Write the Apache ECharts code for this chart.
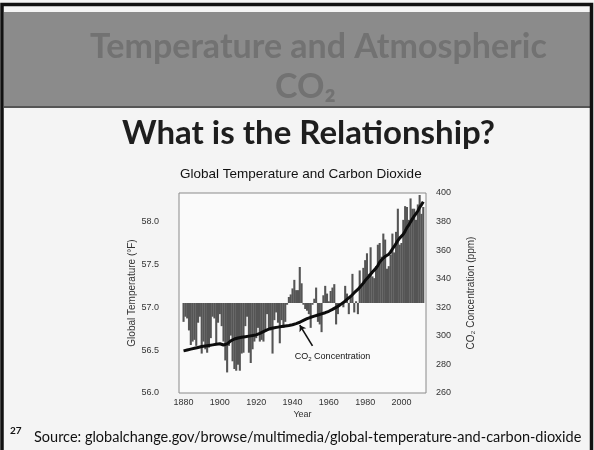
<!DOCTYPE html>
<html>
<head>
<meta charset="utf-8">
<script src="https://cdn.jsdelivr.net/npm/echarts@6/dist/echarts.min.js"></script>
<style>
html,body{margin:0;padding:0;background:#f4f4f4;}
#c{width:594px;height:450px;}
</style>
</head>
<body>
<div id="c"></div>
<script>
// ---- Data ----
const firstYear = 1880;
const axisYears = [1878, 2013];            // axis span (category range)
const tickYears = [1880, 1900, 1920, 1940, 1960, 1980, 2000];
const tempBaseline = 57.05;                 // bar baseline (°F)
// Global annual temperature, °F, 1880..2012
const temperatureF = [
  56.83,56.89,56.87,56.73,56.56,56.60,56.62,56.55,56.82,56.89,
  56.46,56.60,56.51,56.47,56.53,56.64,56.89,56.87,56.58,56.82,
  56.92,56.78,56.60,56.38,56.24,56.55,56.67,56.37,56.28,56.26,
  56.33,56.26,56.46,56.47,56.78,56.89,56.47,56.35,56.51,56.60,
  56.64,56.76,56.60,56.62,56.60,56.73,56.92,56.74,56.73,56.46,
  56.85,56.94,56.82,56.58,56.85,56.76,56.83,57.03,57.12,57.15,
  57.22,57.32,57.20,57.20,57.47,57.28,57.03,56.98,56.96,56.92,
  56.76,57.03,57.10,57.23,56.83,56.80,56.71,57.14,57.25,57.16,
  57.07,57.19,57.23,57.27,56.80,56.92,57.03,57.05,57.00,57.25,
  57.16,56.92,57.12,57.39,56.94,57.07,56.92,57.43,57.27,57.46,
  57.55,57.63,57.39,57.70,57.36,57.34,57.48,57.73,57.75,57.59,
  57.86,57.79,57.45,57.48,57.61,57.86,57.64,57.88,58.15,57.73,
  57.75,58.02,58.18,58.17,58.02,58.27,58.15,58.15,58.02,58.20,
  58.31,58.09,58.17
];
// Atmospheric CO2, ppm, 1880..2012
const co2ppm = [
  289.5,289.8,290.1,290.4,290.7,291.0,291.3,291.6,291.9,292.2,
  292.5,292.7,292.9,293.1,293.3,293.5,293.7,293.9,294.1,294.3,
  294.5,294.2,293.6,293.4,294.4,295.6,296.5,297.2,297.8,298.2,
  298.5,298.8,299.0,299.2,299.4,299.6,299.8,300.0,300.2,300.4,
  300.7,301.2,301.8,302.4,303.0,303.6,304.2,304.8,305.2,305.5,
  305.7,305.9,306.1,306.3,306.5,306.7,306.9,307.1,307.3,307.5,
  307.8,308.2,308.6,309.0,309.5,310.1,310.8,311.4,312.0,312.5,
  313.0,313.4,313.8,314.2,314.6,315.0,315.4,315.8,316.2,316.6,
  317.2,317.8,318.5,319.2,319.9,320.6,321.5,322.4,323.3,324.4,
  325.5,326.5,327.6,329.0,330.2,331.3,332.5,333.9,335.4,336.9,
  338.7,340.1,341.5,343.1,344.7,346.1,347.4,349.2,351.6,353.1,
  354.4,355.6,356.5,357.1,358.8,360.8,362.6,363.7,366.7,368.4,
  369.6,371.1,373.3,375.8,377.5,379.8,381.9,383.8,385.6,387.4,
  389.9,391.7,393.9
];
const tempTicks = [56.0, 56.5, 57.0, 57.5, 58.0];
const co2Ticks = [260, 280, 300, 320, 340, 360, 380, 400];
// annotation anchors (data coords)
const arrowFrom = ['1951', 293];
const arrowTo = ['1944', 307.5];
const labelAt = ['1962', 285.5];

// ---- Build library inputs ----
const categories = [];
for (let y = axisYears[0]; y <= axisYears[1]; y++) categories.push(String(y));
const baseData = categories.map(c => {
  const i = +c - firstYear;
  if (i < 0 || i >= temperatureF.length) return null;
  return Math.min(temperatureF[i], tempBaseline);
});
const deltaData = categories.map(c => {
  const i = +c - firstYear;
  if (i < 0 || i >= temperatureF.length) return null;
  return +Math.abs(temperatureF[i] - tempBaseline).toFixed(3);
});
const co2Data = categories.map(c => {
  const i = +c - firstYear;
  if (i < 0 || i >= co2ppm.length) return null;
  return co2ppm[i];
});

const chart = echarts.init(document.getElementById('c'), null, {renderer: 'canvas'});
const AX = {fontFamily: 'Liberation Sans, Arial, sans-serif', color: '#333', fontSize: 9};
const HEAD = '"Lato", "Open Sans", sans-serif';
const option = {
  backgroundColor: '#f4f4f4',
  animation: false,
  graphic: [
    {type: 'rect', shape: {x: 4, y: 12, width: 588, height: 95}, style: {fill: '#8b8b8b'}, z: -10},
    {type: 'rect', shape: {x: 4, y: 106, width: 588, height: 2}, style: {fill: '#555'}, z: -9},
    {type: 'rect', shape: {x: 2, y: 4.5, width: 589.5, height: 470}, style: {fill: 'none', stroke: '#111', lineWidth: 3.5}, z: 10},
    {type: 'text', left: 90, top: 30, style: {text: 'Temperature and Atmospheric', font: 'bold 34px ' + HEAD, fill: '#727272'}, z: -5},
    {type: 'text', left: 275, top: 70, style: {text: 'CO₂', font: 'bold 34px ' + HEAD, fill: '#727272'}, z: -5},
    {type: 'text', left: 122, top: 117, style: {text: 'What is the Relationship?', font: 'bold 33px ' + HEAD, fill: '#1e1e1e'}},
    {type: 'text', left: 10, top: 426, style: {text: '27', font: 'bold 10px ' + HEAD, fill: '#111'}},
    {type: 'text', left: 34, top: 430, style: {text: 'Source: globalchange.gov/browse/multimedia/global-temperature-and-carbon-dioxide', font: '14.5px ' + HEAD, fill: '#111'}}
  ],
  title: {
    text: 'Global Temperature and Carbon Dioxide',
    left: 175, top: 162,
    textStyle: {fontFamily: 'Liberation Sans, Arial, sans-serif', fontSize: 13.5, fontWeight: 'normal', color: '#111'}
  },
  grid: {left: 179, right: 168, top: 193, bottom: 57, show: true, borderColor: '#8a8a8a', borderWidth: 1, backgroundColor: '#fafafa'},
  xAxis: {
    type: 'category', data: categories, boundaryGap: true,
    axisLine: {show: false}, axisTick: {show: false},
    axisLabel: Object.assign({}, AX, {interval: (i, v) => tickYears.indexOf(+v) >= 0, margin: 5}),
    name: 'Year', nameLocation: 'middle', nameGap: 17,
    nameTextStyle: AX
  },
  yAxis: [
    {
      type: 'value', min: tempTicks[0], max: tempTicks[0] + (co2Ticks[co2Ticks.length-1] - co2Ticks[0]) / 60,
      interval: 0.5, splitLine: {show: false}, axisLine: {show: false}, axisTick: {show: false},
      axisLabel: Object.assign({}, AX, {formatter: v => v.toFixed(1), showMaxLabel: false, margin: 20}),
      name: 'Global Temperature (°F)', nameLocation: 'middle', nameGap: 29, nameRotate: 90,
      nameTextStyle: Object.assign({}, AX, {fontSize: 10})
    },
    {
      type: 'value', min: co2Ticks[0], max: co2Ticks[co2Ticks.length-1], interval: 20, position: 'right',
      splitLine: {show: false}, axisLine: {show: false}, axisTick: {show: false},
      axisLabel: Object.assign({}, AX, {margin: 10}),
      name: 'CO₂ Concentration (ppm)', nameLocation: 'middle', nameGap: 40, nameRotate: 90,
      nameTextStyle: Object.assign({}, AX, {fontSize: 10})
    }
  ],
  series: [
    {type: 'bar', name: 'base', stack: 't', data: baseData, barWidth: '115%', itemStyle: {color: 'rgba(0,0,0,0)'}, silent: true},
    {type: 'bar', name: 'Temperature', stack: 't', data: deltaData, barWidth: '115%',
      itemStyle: {color: '#555555'}},
    {
      type: 'line', name: 'CO2', yAxisIndex: 1, data: co2Data, showSymbol: false, connectNulls: false,
      lineStyle: {color: '#0d0d0d', width: 3}, z: 5,
      markLine: {
        silent: true, symbol: ['none', 'arrow'], symbolSize: 6,
        lineStyle: {color: '#111', width: 1.6, type: 'solid'}, label: {show: false},
        data: [[{coord: arrowFrom}, {coord: arrowTo}]]
      },
      markPoint: {
        silent: true, symbol: 'rect', symbolSize: 1, itemStyle: {color: 'rgba(0,0,0,0)'},
        label: {show: true, position: 'inside', formatter: '{a|CO}{s|2}{a| Concentration}',
          rich: {a: {fontFamily: 'Liberation Sans, Arial, sans-serif', fontSize: 9, color: '#111'},
                 s: {fontFamily: 'Liberation Sans, Arial, sans-serif', fontSize: 6, color: '#111', padding: [5, 0, 0, 0]}}},
        data: [{coord: labelAt}]
      }
    }
  ]
};
chart.setOption(option);
</script>
</body>
</html>
